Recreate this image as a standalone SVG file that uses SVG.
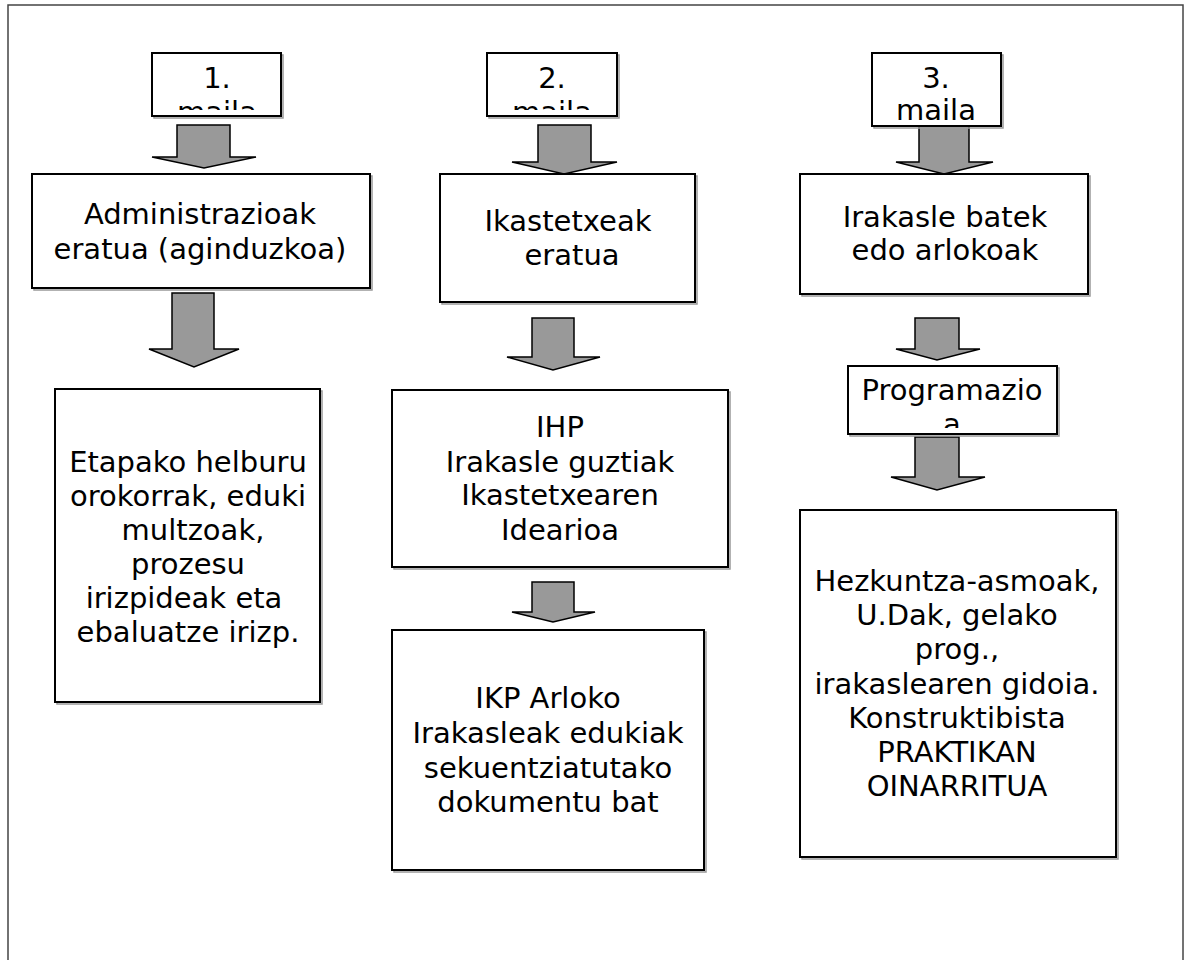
<svg xmlns="http://www.w3.org/2000/svg" width="1185" height="960" viewBox="0 0 1185 960">
<style>
.box{fill:#fff;stroke:#000;stroke-width:2}
.sh{fill:none;stroke:#999;stroke-width:1.5}
.arr{fill:#999;stroke:#000;stroke-width:1.5;stroke-linejoin:miter}
text{font-family:"DejaVu Sans",Verdana,sans-serif;font-size:29px;fill:#000;text-anchor:middle}
</style>
<defs>
<clipPath id="c1"><rect x="152" y="53" width="130" height="57"/></clipPath>
<clipPath id="c2"><rect x="487" y="53" width="130" height="57"/></clipPath>
<clipPath id="c3"><rect x="848" y="366" width="210" height="62"/></clipPath>
</defs>
<rect x="8" y="5" width="1175" height="970" fill="none" stroke="#444" stroke-width="1.5"/>
<g id="connectors">
<path class="arr" d="M177,125 H230 V157 H256 L204,168 L152,157 H177 Z"/>
<path class="arr" d="M538,125 H591 V162 H617 L564,174 L512,162 H538 Z"/>
<path class="arr" d="M919,126 H969 V162 H993 L944,174 L896,162 H919 Z"/>
<path class="arr" d="M172,293 H214 V349 H239 L194,367 L149,349 H172 Z"/>
<path class="arr" d="M532,318 H574 V357 H600 L553,370 L507,357 H532 Z"/>
<path class="arr" d="M532,582 H574 V612 H595 L553,622 L512,612 H532 Z"/>
<path class="arr" d="M915,318 H959 V349 H980 L937,360 L896,349 H915 Z"/>
<path class="arr" d="M915,437 H959 V477 H985 L937,490 L891,477 H915 Z"/>
</g>
<g id="n-maila1">
<rect class="sh" x="154" y="55" width="129" height="63"/>
<rect class="box" x="152" y="53" width="129" height="63"/>
<g clip-path="url(#c1)"><text x="217" y="88">1.</text><text x="217" y="122">maila</text></g>
</g>
<g id="n-maila2">
<rect class="sh" x="489" y="55" width="130" height="63"/>
<rect class="box" x="487" y="53" width="130" height="63"/>
<g clip-path="url(#c2)"><text x="552" y="88">2.</text><text x="552" y="122">maila</text></g>
</g>
<g id="n-maila3">
<rect class="sh" x="874" y="55" width="129" height="73"/>
<rect class="box" x="872" y="53" width="129" height="73"/>
<text x="936" y="88">3.</text><text x="936" y="120">maila</text>
</g>
<g id="n-admin">
<rect class="sh" x="34" y="176" width="338" height="114"/>
<rect class="box" x="32" y="174" width="338" height="114"/>
<text x="200" y="224">Administrazioak</text>
<text x="200" y="259">eratua (aginduzkoa)</text>
</g>
<g id="n-etapako">
<rect class="sh" x="57" y="391" width="265" height="313"/>
<rect class="box" x="55" y="389" width="265" height="313"/>
<text x="188" y="472">Etapako helburu</text>
<text x="188" y="506">orokorrak, eduki</text>
<text x="193" y="540">multzoak,</text>
<text x="188" y="574">prozesu</text>
<text x="184" y="608">irizpideak eta</text>
<text x="188" y="642">ebaluatze irizp.</text>
</g>
<g id="n-ikastetxeak">
<rect class="sh" x="442" y="176" width="255" height="128"/>
<rect class="box" x="440" y="174" width="255" height="128"/>
<text x="568" y="231">Ikastetxeak</text>
<text x="572" y="265">eratua</text>
</g>
<g id="n-ihp">
<rect class="sh" x="394" y="392" width="336" height="177"/>
<rect class="box" x="392" y="390" width="336" height="177"/>
<text x="560" y="437">IHP</text>
<text x="560" y="472">Irakasle guztiak</text>
<text x="560" y="505">Ikastetxearen</text>
<text x="560" y="540">Idearioa</text>
</g>
<g id="n-ikp">
<rect class="sh" x="394" y="632" width="312" height="240"/>
<rect class="box" x="392" y="630" width="312" height="240"/>
<text x="548" y="708">IKP Arloko </text>
<text x="548" y="743">Irakasleak edukiak </text>
<text x="548" y="778">sekuentziatutako</text>
<text x="548" y="812">dokumentu bat</text>
</g>
<g id="n-irakasle">
<rect class="sh" x="802" y="176" width="288" height="120"/>
<rect class="box" x="800" y="174" width="288" height="120"/>
<text x="945" y="227">Irakasle batek</text>
<text x="945" y="260">edo arlokoak</text>
</g>
<g id="n-programazioa">
<rect class="sh" x="850" y="368" width="209" height="68"/>
<rect class="box" x="848" y="366" width="209" height="68"/>
<g clip-path="url(#c3)"><text x="952" y="400">Programazio</text><text x="952" y="434">a</text></g>
</g>
<g id="n-hezkuntza">
<rect class="sh" x="802" y="512" width="316" height="347"/>
<rect class="box" x="800" y="510" width="316" height="347"/>
<text x="957" y="591">Hezkuntza-asmoak,</text>
<text x="957" y="625">U.Dak, gelako</text>
<text x="957" y="659">prog.,</text>
<text x="957" y="694">irakaslearen gidoia.</text>
<text x="957" y="728">Konstruktibista</text>
<text x="957" y="762">PRAKTIKAN </text>
<text x="957" y="796">OINARRITUA</text>
</g>
</svg>
